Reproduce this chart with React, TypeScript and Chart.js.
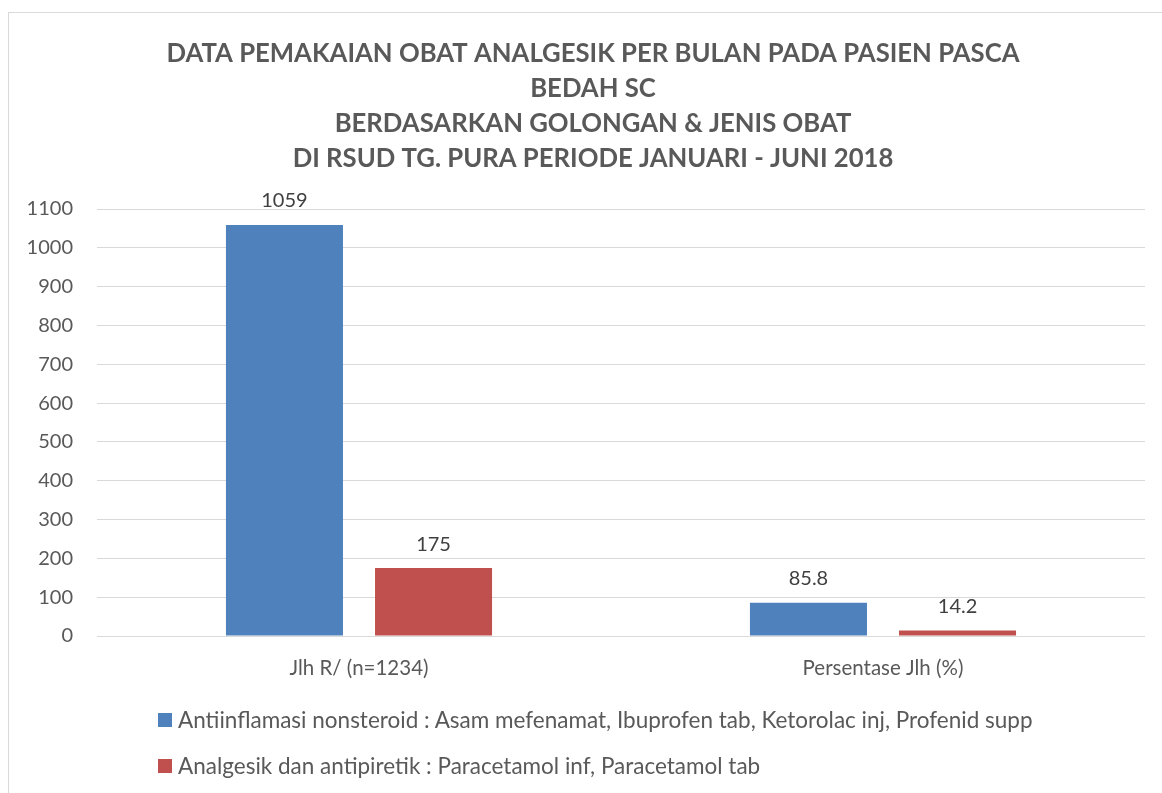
import React, { useEffect, useRef } from "react";
import { Chart, registerables } from "chart.js";

Chart.register(...registerables);

const categories = ["Jlh R/ (n=1234)", "Persentase Jlh (%)"];
const seriesNames = [
  "Antiinflamasi nonsteroid : Asam mefenamat, Ibuprofen tab, Ketorolac inj, Profenid supp",
  "Analgesik dan antipiretik : Paracetamol inf, Paracetamol tab",
];
const seriesBlue = [1059, 85.8];
const seriesRed = [175, 14.2];
const seriesColors = ["#4F81BD", "#C0504D"];
const titleLines = [
  "DATA PEMAKAIAN OBAT ANALGESIK PER BULAN PADA PASIEN PASCA",
  "BEDAH SC",
  "BERDASARKAN GOLONGAN & JENIS OBAT",
  "DI RSUD TG. PURA PERIODE JANUARI - JUNI 2018",
];
const yMax = 1100;
const yStep = 100;

const FONT = "Lato, 'Open Sans', sans-serif";
const TICK_SIZE = 20;
const PLOT_LEFT = 97;
const LABEL_RIGHT = 73;
const PAD_LEFT = 41;

const dataLabelPlugin = {
  id: "dataLabels",
  afterDatasetsDraw(chart: any) {
    const ctx = chart.ctx;
    ctx.save();
    ctx.font = `20px ${FONT}`;
    ctx.fillStyle = "#404040";
    ctx.textAlign = "center";
    ctx.textBaseline = "bottom";
    chart.data.datasets.forEach((ds: any, i: number) => {
      const meta = chart.getDatasetMeta(i);
      meta.data.forEach((bar: any, j: number) => {
        ctx.fillText(String(ds.data[j]), bar.x, bar.y - 14);
      });
    });
    ctx.restore();
  },
};

export default function App() {
  const ref = useRef<HTMLCanvasElement | null>(null);
  useEffect(() => {
    if (!ref.current) return;
    const mctx = ref.current.getContext("2d")!;
    mctx.font = `${TICK_SIZE}px ${FONT}`;
    let widest = 0;
    for (let v = 0; v <= yMax; v += yStep) {
      widest = Math.max(widest, mctx.measureText(String(v)).width);
    }
    const chart = new Chart(ref.current, {
      type: "bar",
      data: {
        labels: categories,
        datasets: [
          { label: seriesNames[0], data: seriesBlue, backgroundColor: seriesColors[0] },
          { label: seriesNames[1], data: seriesRed, backgroundColor: seriesColors[1] },
        ],
      },
      options: {
        responsive: false,
        animation: false,
        layout: { padding: { left: PAD_LEFT, right: 17, top: 0, bottom: 97 } },
        datasets: {
          bar: { categoryPercentage: 0.569, barPercentage: 0.785 },
        } as any,
        plugins: {
          legend: { display: false },
          tooltip: { enabled: false },
          title: {
            display: true,
            text: titleLines,
            color: "#595959",
            font: { family: FONT, size: 25.7, weight: "bold", lineHeight: 1.362 },
            padding: { top: 36, bottom: 33 },
          },
        },
        scales: {
          x: {
            grid: { display: false, drawTicks: false },
            border: { display: false },
            ticks: { color: "#595959", font: { family: FONT, size: 20.5 }, padding: 20 },
            afterFit(scale: any) {
              scale.height = 60;
            },
          },
          y: {
            min: 0,
            max: yMax,
            grid: { color: "#D9D9D9", lineWidth: 1, drawTicks: false },
            border: { display: false },
            ticks: {
              stepSize: yStep,
              color: "#595959",
              font: { family: FONT, size: TICK_SIZE },
              mirror: true,
              crossAlign: "far",
              padding: LABEL_RIGHT - PLOT_LEFT - widest,
              callback: (v: any) => String(v),
            },
            afterFit(scale: any) {
              scale.width = PLOT_LEFT - PAD_LEFT;
            },
          },
        },
      },
      plugins: [dataLabelPlugin],
    });
    return () => chart.destroy();
  }, []);

  return (
    <div>
      <div
        style={{
          position: "fixed",
          left: 8,
          top: 12,
          width: 1300,
          height: 1000,
          border: "1px solid #D9D9D9",
          boxSizing: "border-box",
        }}
      />
      <canvas
        ref={ref}
        width={1162}
        height={793}
        style={{ position: "fixed", left: 0, top: 0, width: 1162, height: 793 }}
      />
      <div
        style={{
          position: "fixed",
          left: 158,
          top: 697,
          fontFamily: FONT,
          fontSize: 22.5,
          color: "#595959",
          lineHeight: "46px",
        }}
      >
        {seriesNames.map((n, i) => (
          <div key={i} style={{ display: "flex", alignItems: "center", height: 46, whiteSpace: "nowrap" }}>
            <span
              style={{
                display: "inline-block",
                width: 14,
                height: 14,
                background: seriesColors[i],
                marginRight: 6,
              }}
            />
            <span>{n}</span>
          </div>
        ))}
      </div>
    </div>
  );
}
